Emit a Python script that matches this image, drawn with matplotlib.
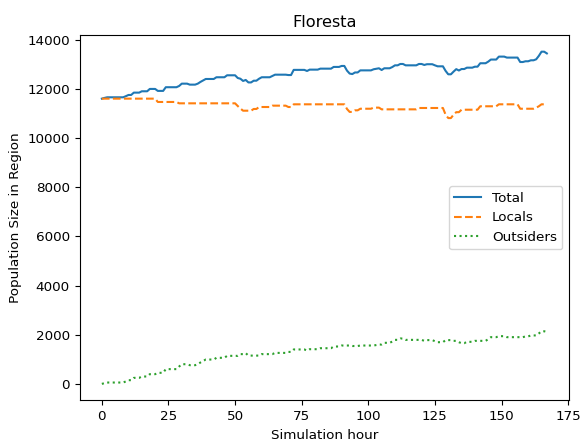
import matplotlib
matplotlib.use("Agg")
import matplotlib.pyplot as plt

plt.rcParams["font.size"] = 9.7

# Hourly population counts for the Floresta region (one value per simulation hour)
hours = list(range(168))

total = [
    11600, 11630, 11655, 11655, 11655, 11655, 11655, 11655, 11655, 11700,
    11750, 11750, 11845, 11845, 11845, 11900, 11900, 11900, 11995, 11995,
    11995, 11915, 11915, 11915, 12065, 12065, 12065, 12065, 12065, 12115,
    12210, 12210, 12210, 12170, 12170, 12170, 12210, 12280, 12340, 12400,
    12400, 12400, 12400, 12470, 12470, 12470, 12470, 12550, 12550, 12550,
    12550, 12440, 12410, 12320, 12360, 12260, 12260, 12330, 12330, 12410,
    12470, 12470, 12470, 12470, 12525, 12575, 12575, 12575, 12575, 12575,
    12560, 12560, 12770, 12770, 12770, 12770, 12770, 12725, 12780, 12780,
    12780, 12780, 12820, 12820, 12820, 12820, 12820, 12890, 12890, 12890,
    12930, 12930, 12740, 12620, 12600, 12665, 12665, 12750, 12750, 12750,
    12750, 12750, 12795, 12815, 12835, 12765, 12835, 12835, 12835, 12885,
    12955, 12955, 13010, 13010, 12955, 12955, 12955, 12955, 12955, 13010,
    13010, 12970, 13000, 13000, 13000, 12955, 12915, 12915, 12915, 12730,
    12590, 12590, 12700, 12800, 12745, 12805, 12805, 12860, 12860, 12860,
    12900, 12900, 13040, 13040, 13040, 13105, 13190, 13190, 13190, 13310,
    13310, 13310, 13270, 13270, 13270, 13270, 13270, 13090, 13090, 13120,
    13120, 13160, 13160, 13200, 13340, 13510, 13510, 13440,
]

locals_ = [
    11600, 11600, 11600, 11600, 11600, 11600, 11600, 11600, 11600, 11600,
    11600, 11600, 11600, 11600, 11600, 11600, 11600, 11600, 11600, 11600,
    11600, 11465, 11465, 11465, 11465, 11465, 11465, 11465, 11465, 11410,
    11410, 11410, 11410, 11410, 11410, 11410, 11410, 11410, 11410, 11410,
    11410, 11410, 11410, 11410, 11410, 11410, 11410, 11410, 11410, 11410,
    11410, 11300, 11200, 11110, 11110, 11110, 11110, 11180, 11180, 11260,
    11260, 11260, 11260, 11260, 11315, 11315, 11315, 11315, 11315, 11315,
    11260, 11260, 11370, 11370, 11370, 11370, 11370, 11370, 11370, 11370,
    11370, 11370, 11370, 11370, 11370, 11370, 11370, 11370, 11370, 11370,
    11370, 11370, 11180, 11060, 11060, 11125, 11125, 11190, 11190, 11190,
    11190, 11190, 11235, 11235, 11235, 11165, 11165, 11165, 11165, 11165,
    11165, 11165, 11165, 11165, 11165, 11165, 11165, 11165, 11165, 11220,
    11220, 11220, 11220, 11220, 11220, 11220, 11220, 11220, 11220, 10950,
    10810, 10810, 10950, 11050, 11050, 11150, 11150, 11150, 11150, 11150,
    11150, 11150, 11290, 11290, 11290, 11290, 11290, 11290, 11290, 11370,
    11370, 11370, 11370, 11370, 11370, 11370, 11370, 11190, 11190, 11190,
    11190, 11190, 11190, 11230, 11290, 11370, 11370, 11330,
]

outsiders = [
    0, 30, 55, 55, 55, 55, 55, 55, 55, 100,
    150, 150, 245, 245, 245, 300, 300, 300, 395, 395,
    395, 450, 450, 450, 600, 600, 600, 600, 600, 705,
    800, 800, 800, 760, 760, 760, 800, 870, 930, 990,
    990, 990, 990, 1060, 1060, 1060, 1060, 1140, 1140, 1140,
    1140, 1140, 1210, 1210, 1250, 1150, 1150, 1150, 1150, 1150,
    1210, 1210, 1210, 1210, 1210, 1260, 1260, 1260, 1260, 1260,
    1300, 1300, 1400, 1400, 1400, 1400, 1400, 1355, 1410, 1410,
    1410, 1410, 1450, 1450, 1450, 1450, 1450, 1520, 1520, 1520,
    1560, 1560, 1560, 1560, 1540, 1540, 1540, 1560, 1560, 1560,
    1560, 1560, 1560, 1580, 1600, 1600, 1670, 1670, 1670, 1720,
    1790, 1790, 1845, 1845, 1790, 1790, 1790, 1790, 1790, 1790,
    1790, 1750, 1780, 1780, 1780, 1735, 1695, 1695, 1695, 1780,
    1780, 1780, 1750, 1750, 1695, 1655, 1655, 1710, 1710, 1710,
    1750, 1750, 1750, 1750, 1750, 1815, 1900, 1900, 1900, 1940,
    1940, 1940, 1900, 1900, 1900, 1900, 1900, 1900, 1900, 1930,
    1930, 1970, 1970, 1970, 2050, 2140, 2140, 2110,
]

fig = plt.figure(figsize=(5.81, 4.44), dpi=100)
ax = fig.add_axes([0.137, 0.098, 0.8425, 0.823])

ax.plot(hours, total, linestyle="-", label="Total")
ax.plot(hours, locals_, linestyle="--", label="Locals")
ax.plot(hours, outsiders, linestyle=":", label="Outsiders")

ax.set_title("Floresta")
ax.set_xlabel("Simulation hour")
ax.set_ylabel("Population Size in Region")
ax.legend(loc="center right")

fig.savefig("out.png", dpi=100)
